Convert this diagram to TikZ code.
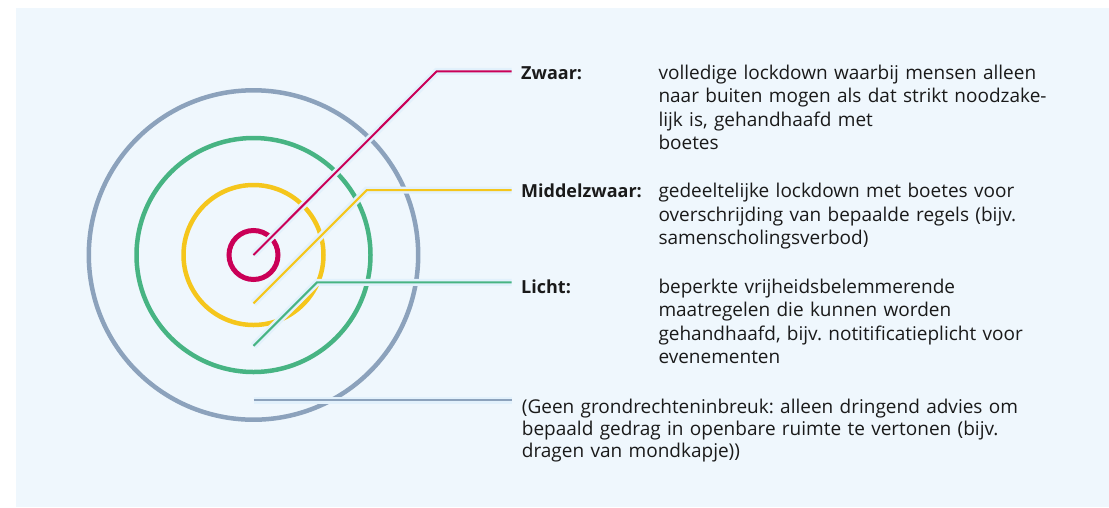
\documentclass[tikz,border=0pt]{standalone}
\usepackage{fontspec}
\setmainfont{Open Sans}
\usetikzlibrary{positioning}
\definecolor{achtergrond}{HTML}{EFF7FD}
\definecolor{halo}{HTML}{E2F1FC}
\definecolor{rood}{HTML}{CA0057}
\definecolor{geel}{HTML}{F5C61C}
\definecolor{groen}{HTML}{47B483}
\definecolor{grijs}{HTML}{8CA2BC}
\definecolor{tekst}{HTML}{1A1A1A}
\frenchspacing
\begin{document}
\begin{tikzpicture}[x=1pt, y=-1pt, line join=miter, line cap=butt,
  ring/.style={draw=#1, line width=4.5pt},
  lijn/.style={draw=#1, line width=2pt, preaction={draw=halo, line width=7pt}},
  kop/.style={anchor=base west, inner sep=0pt, text=tekst, font=\fontsize{18}{23.5}\selectfont\bfseries},
  uitleg/.style={anchor=base west, inner sep=0pt, text=tekst, align=left, text width=440pt, font=\fontsize{19}{23.5}\selectfont}]
	\useasboundingbox (0,0) rectangle (1109,507);
	\fill[achtergrond] (16,8) rectangle (1109,507);
	\coordinate (midden) at (253.5,255); % middelpunt
	\def\xeind{511.7}
	% ringen
	\foreach \r/\k in {164.7/grijs, 117/groen, 70/geel}
		\draw[ring=\k] (midden) circle (\r pt);
	\draw[ring=rood, line width=5pt] (midden) circle (24.5pt);
	% teksten
	\node[kop] (zwaar) at (521,79) {Zwaar:};
	\node[uitleg] (zwaar-tekst) at (658.3,79) {volledige lockdown waarbij mensen alleen\\naar buiten mogen als dat strikt noodzake-\\lijk is, gehandhaafd met\\boetes};
	\node[kop] (middel) at (521,197.7) {Middelzwaar:};
	\node[uitleg] (middel-tekst) at (658.3,197.7) {gedeeltelijke lockdown met boetes voor\\overschrijding van bepaalde regels (bijv.\\samenscholingsverbod)};
	\node[kop] (licht) at (521,293.3) {Licht:};
	\node[uitleg] (licht-tekst) at (658.3,293.3) {beperkte vrijheidsbelemmerende\\maatregelen die kunnen worden\\gehandhaafd, bijv. notitificatieplicht voor\\evenementen};
	\node[uitleg, text width=560pt, font=\fontsize{19}{22.3}\selectfont] (geen) at (521.7,413.3) {(Geen grondrechteninbreuk: alleen dringend advies om\\bepaald gedrag in openbare ruimte te vertonen (bijv.\\dragen van mondkapje))};
	% lijnen
	\coordinate (zwaar-knik) at (436.7,71.3);
	\coordinate (middel-knik) at (366.7,190.2);
	\coordinate (licht-knik) at (317,282.4);
	\coordinate (zwaar-eind) at (\xeind,71.3);
	\coordinate (middel-eind) at (\xeind,190.2);
	\coordinate (licht-eind) at (\xeind,282.4);
	\coordinate (geen-eind) at (\xeind,400);
	\draw[lijn=grijs] (253.5,400) -- (geen-eind);
	\draw[lijn=groen] (253.5,345.9) -- (licht-knik) -- (licht-eind);
	\draw[lijn=geel] (253.5,303.4) -- (middel-knik) -- (middel-eind);
	\draw[lijn=rood] (midden) -- (zwaar-knik) -- (zwaar-eind);
\end{tikzpicture}
\end{document}
